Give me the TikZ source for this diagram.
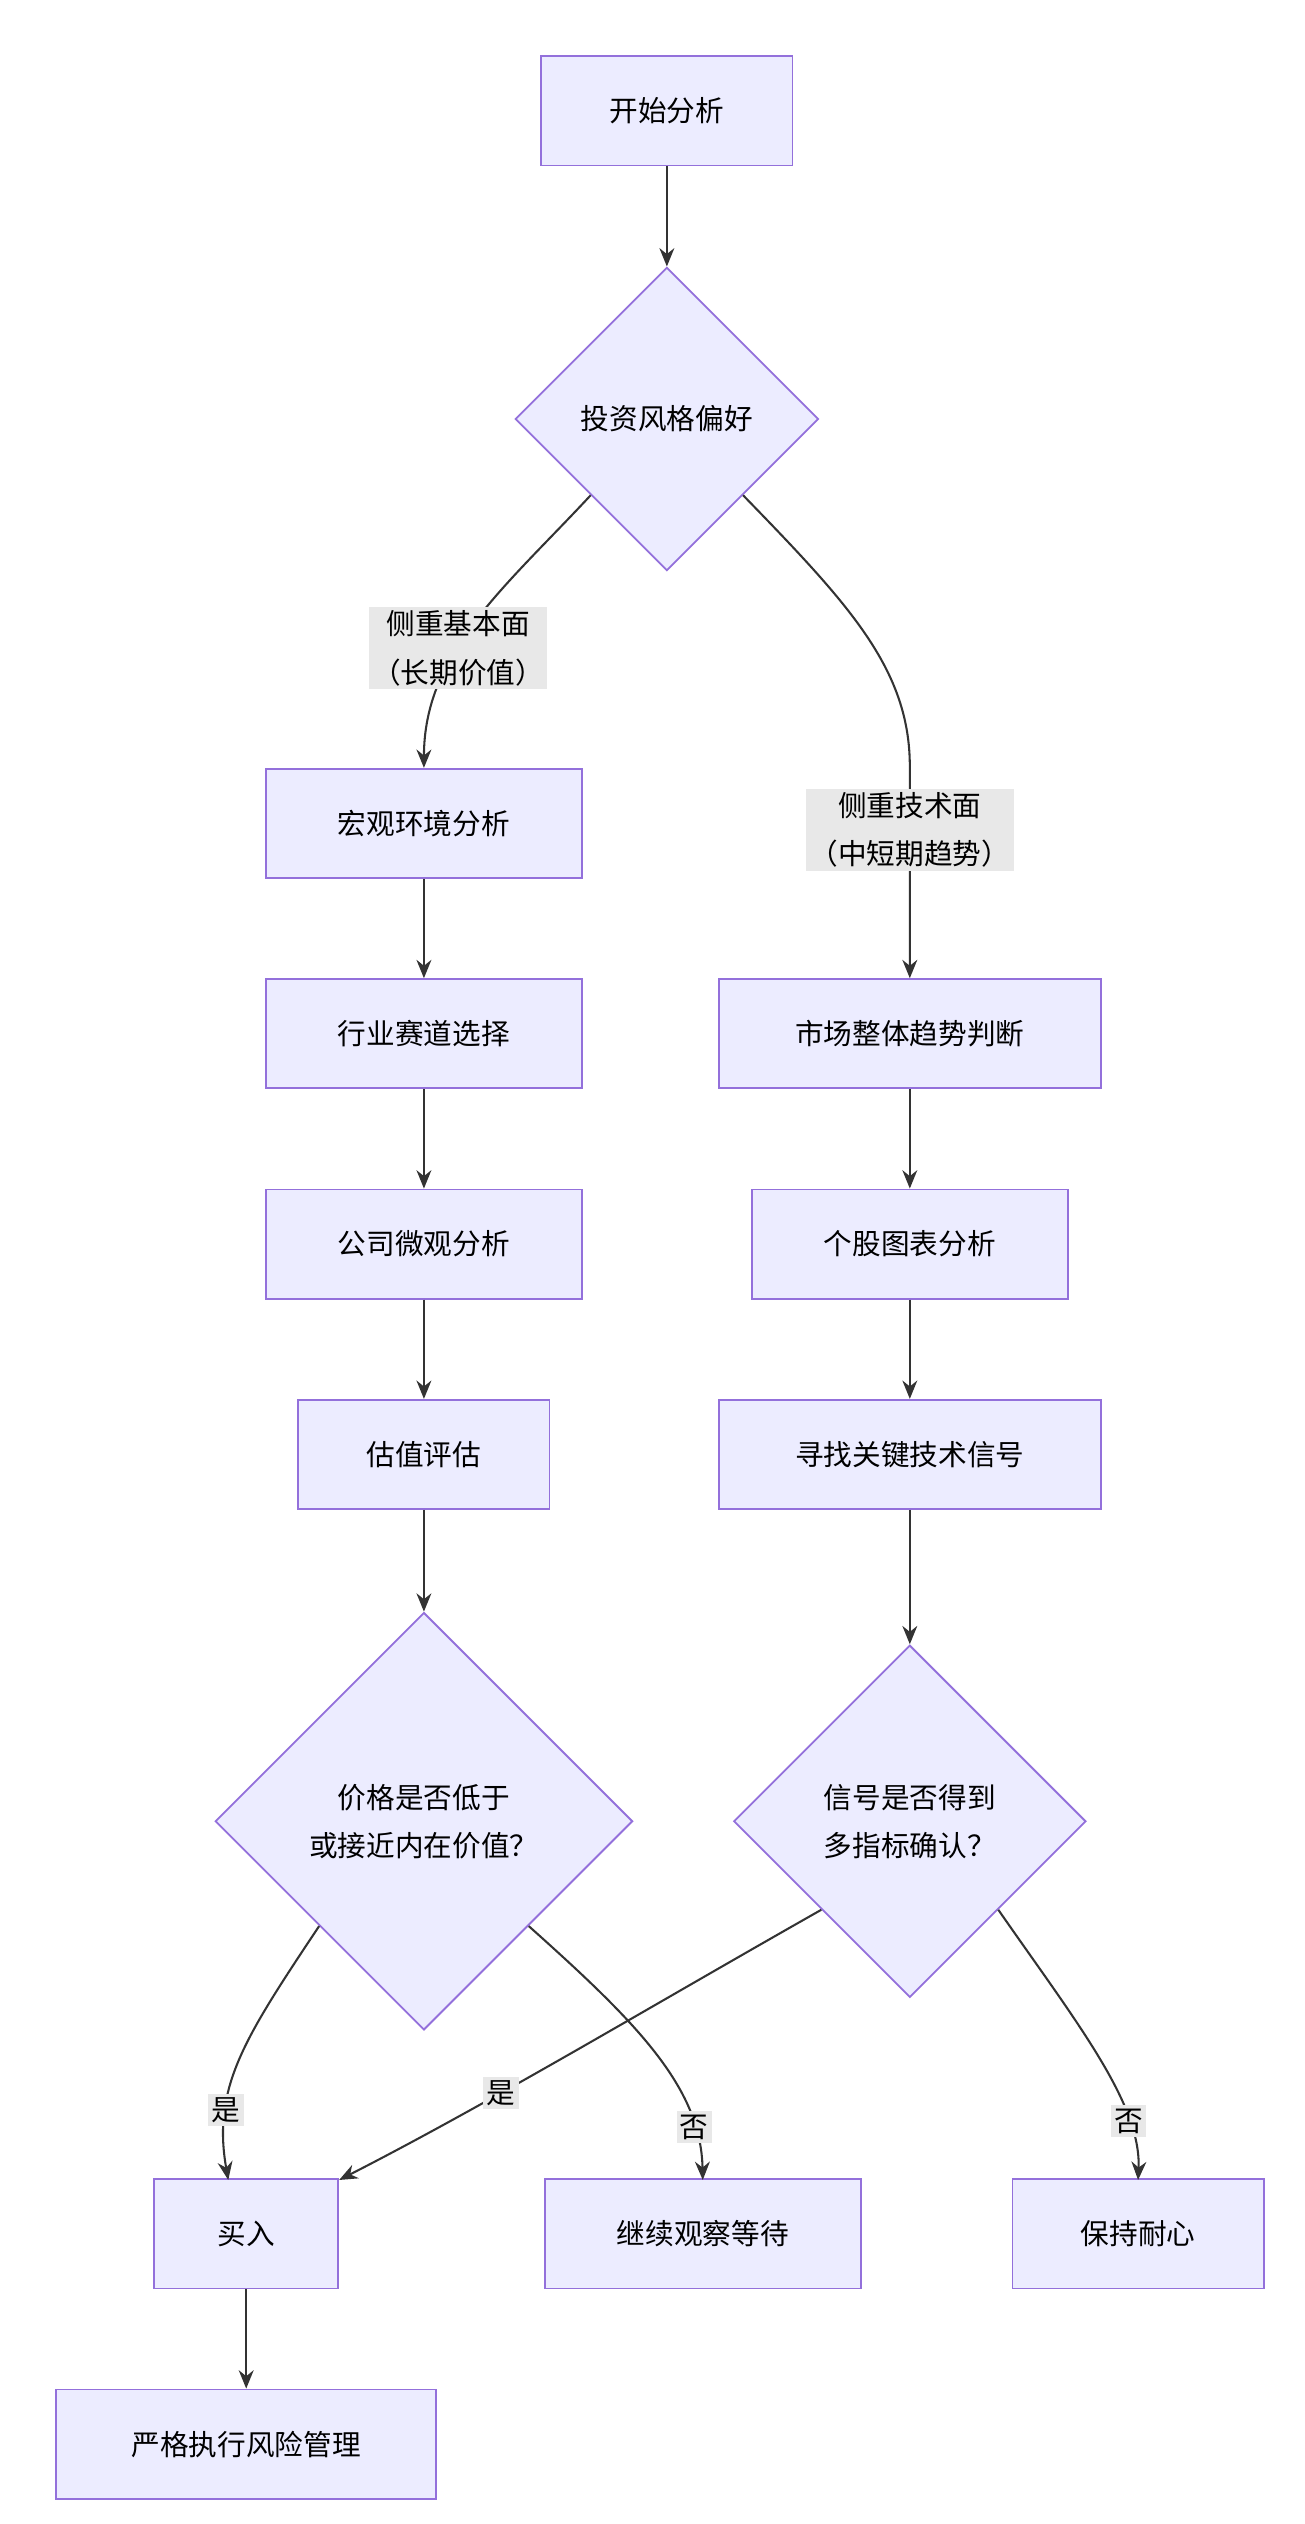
\documentclass[tikz,border=0pt]{standalone}
\usepackage{fontspec}
\setmainfont{Noto Sans CJK SC}
\usetikzlibrary{shapes.geometric}
\usetikzlibrary{arrows.meta}
\definecolor{boxfill}{HTML}{ECECFF}
\definecolor{boxline}{HTML}{9370DB}
\definecolor{edgeline}{HTML}{333333}
\definecolor{lblfill}{HTML}{E8E8E8}
\begin{document}
\begin{tikzpicture}[x=0.05cm,y=-0.05cm]
            \tikzstyle{stage} = [draw=boxline, fill=boxfill, line width=1.6pt, minimum height=3.35cm, inner sep=2pt, font=\fontsize{25}{36}\selectfont]
            \tikzstyle{choice} = [draw=boxline, fill=boxfill, line width=1.6pt, shape=diamond, shape aspect=1, inner sep=0pt, align=center, font=\fontsize{25}{42}\selectfont]
            \tikzstyle{tag} = [fill=lblfill, inner sep=3pt, align=center, font=\fontsize{25}{42}\selectfont]
            \tikzstyle{flow} = [draw=edgeline, line width=1.8pt, -{Stealth[length=16pt,width=13pt]}]
            \useasboundingbox (0,0) rectangle (800,1548);

            \node (start) [stage, minimum width=7.7cm] at (409,68) {开始分析};
            \node (style) [choice, minimum size=9.3cm] at (409,257) {投资风格偏好};

            % fundamental branch
            \node (macro) [stage, minimum width=9.7cm] at (260,505) {宏观环境分析};
            \node (sector) [stage, minimum width=9.7cm] at (260,634) {行业赛道选择};
            \node (firm) [stage, minimum width=9.7cm] at (260,763) {公司微观分析};
            \node (value) [stage, minimum width=7.7cm] at (260,892) {估值评估};
            \node (price) [choice, minimum size=12.8cm] at (260,1117) {价格是否低于\\或接近内在价值？};

            % technical branch
            \node (market) [stage, minimum width=11.7cm] at (558,634) {市场整体趋势判断};
            \node (chart) [stage, minimum width=9.7cm] at (558,763) {个股图表分析};
            \node (signal) [stage, minimum width=11.7cm] at (558,892) {寻找关键技术信号};
            \node (confirm) [choice, minimum size=10.8cm] at (558,1117) {信号是否得到\\多指标确认？};

            % outcomes
            \node (buy) [stage, minimum width=5.65cm] at (151,1370) {买入};
            \node (wait) [stage, minimum width=9.7cm] at (431,1370) {继续观察等待};
            \node (patient) [stage, minimum width=7.7cm] at (698,1370) {保持耐心};
            \node (risk) [stage, minimum width=11.65cm] at (151,1499) {严格执行风险管理};

            \draw [flow] (start) -- (style);
            \draw [flow] (style.south west) .. controls (310,360) and (260,400) .. (macro.north)
                node [tag, pos=0.6] {侧重基本面\\（长期价值）};
            \draw [flow] (style.south east) .. controls (520,370) and (558,410) .. (558,470) -- (market.north)
                node [tag, pos=0.3] {侧重技术面\\（中短期趋势）};
            \draw [flow] (macro) -- (sector);
            \draw [flow] (sector) -- (firm);
            \draw [flow] (firm) -- (value);
            \draw [flow] (value) -- (price);
            \draw [flow] (market) -- (chart);
            \draw [flow] (chart) -- (signal);
            \draw [flow] (signal) -- (confirm);

            \draw [flow] (price.south west) .. controls (150,1250) and (130,1280) .. (140,1337)
                node [tag, pos=0.72] {是};
            \draw [flow] (price.south east) .. controls (390,1240) and (430,1280) .. (431,1337)
                node [tag, pos=0.8] {否};
            \draw [flow] (confirm.south west) .. controls (400,1230) and (300,1290) .. (208,1337)
                node [tag, pos=0.65] {是};
            \draw [flow] (confirm.south east) .. controls (660,1240) and (700,1290) .. (698,1337)
                node [tag, pos=0.75] {否};
            \draw [flow] (buy) -- (risk);
        \end{tikzpicture}
\end{document}
